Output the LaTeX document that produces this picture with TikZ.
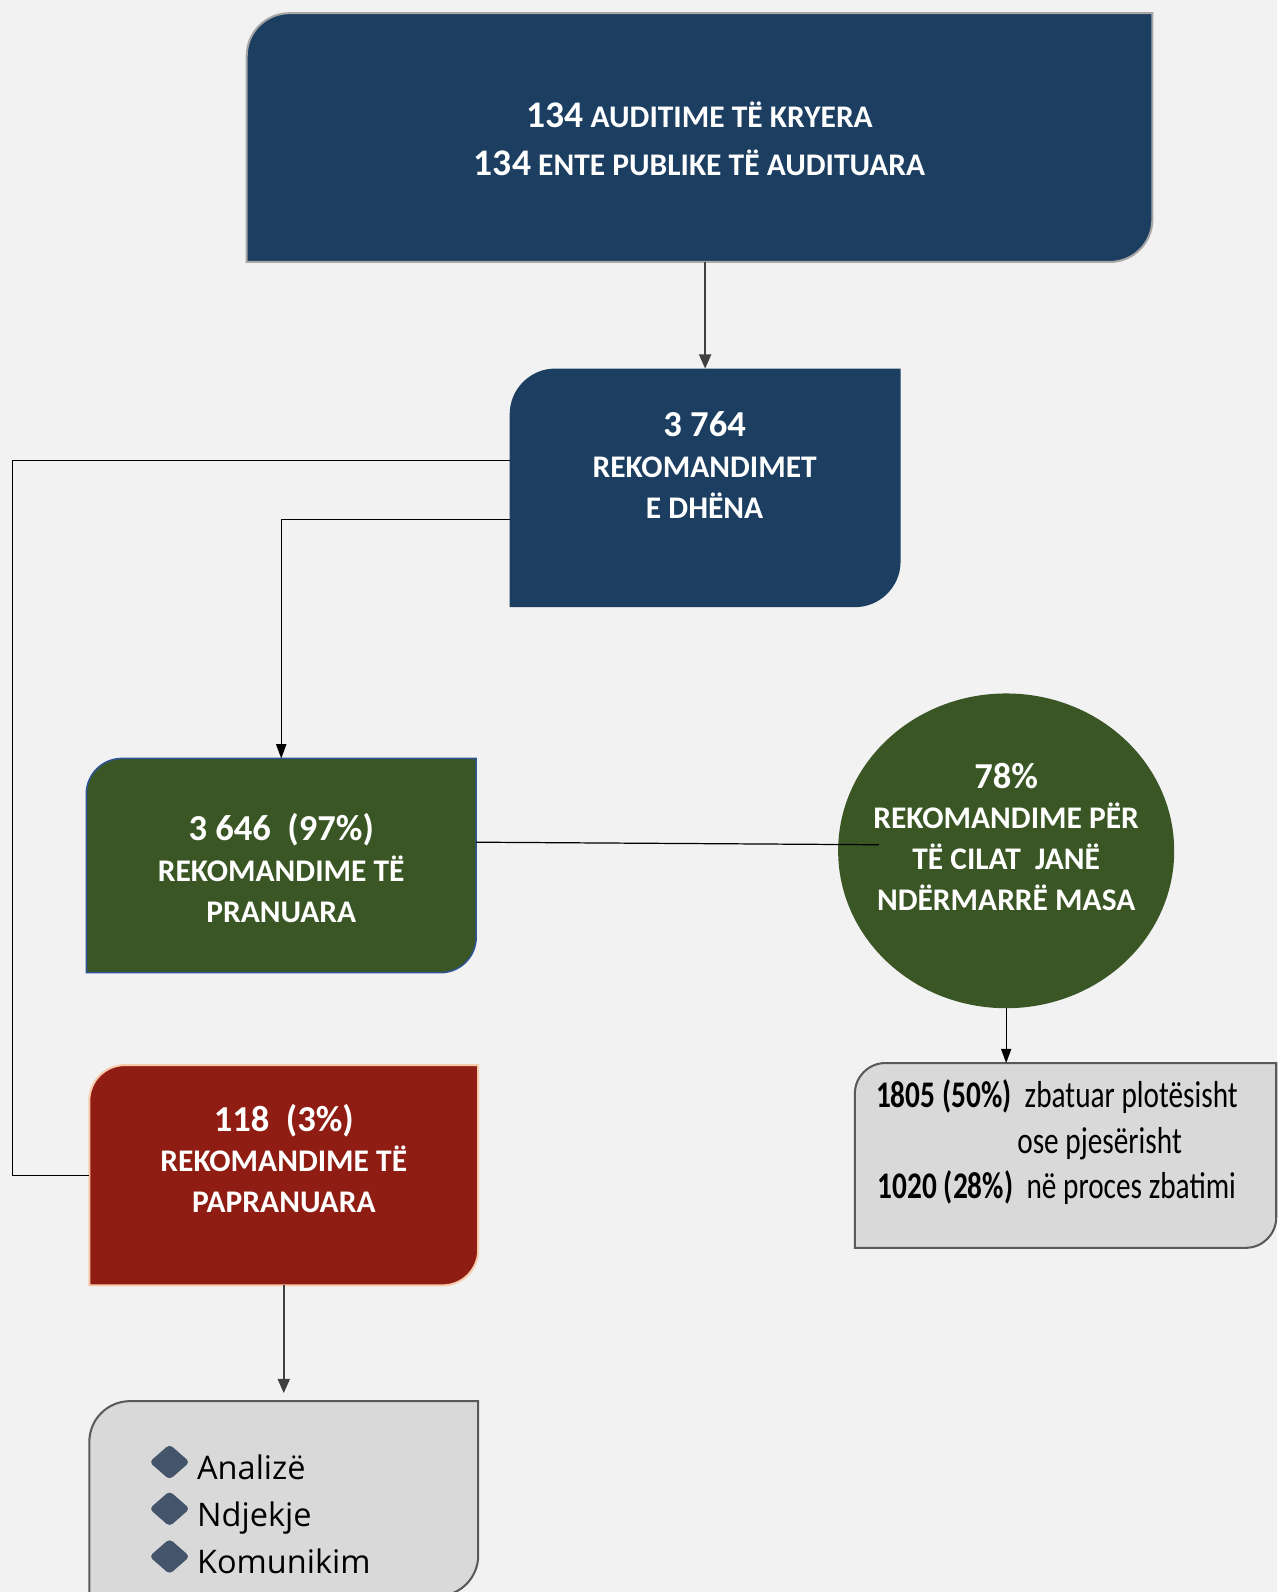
\documentclass[tikz,border=0pt]{standalone}
\usepackage{fontspec}
\setmainfont{Carlito}
\newfontfamily\listfont{Open Sans}
\usetikzlibrary{positioning,calc,shapes.geometric,arrows.meta}

\definecolor{pagegray}{HTML}{F2F2F2}
\definecolor{auditblue}{HTML}{1B3E61}
\definecolor{acceptgreen}{HTML}{3A5624}
\definecolor{refusered}{HTML}{8F1D13}
\definecolor{notegray}{HTML}{D9D9D9}
\definecolor{bulletblue}{HTML}{44546A}
\definecolor{arrowgray}{HTML}{404040}

\pgfdeclarelayer{bg}
\pgfsetlayers{bg,main}

\newcommand{\numsize}{\fontsize{36}{40}\selectfont}

% box with round top left and bottom right corners
\newcommand{\leafbox}[3]{%
  \path[#3] (#1.south west)
    -- ($(#1.north west)+(0,#2)$)
    .. controls ($(#1.north west)+(0,0.448*#2)$) and ($(#1.north west)+(0.448*#2,0)$) .. ($(#1.north west)+(#2,0)$)
    -- (#1.north east)
    -- ($(#1.south east)-(0,#2)$)
    .. controls ($(#1.south east)-(0,0.448*#2)$) and ($(#1.south east)-(0.448*#2,0)$) .. ($(#1.south east)-(#2,0)$)
    -- cycle;}

\begin{document}
\begin{tikzpicture}
  [x=1pt, y=-1pt,
   boxframe/.style={rectangle, inner sep=0, outer sep=0},
   boxtext/.style={text=white, font=\bfseries\fontsize{31}{40}\selectfont, align=center},
   notetext/.style={text=black, font=\fontsize{37}{44.5}\selectfont, align=center},
   link/.style={draw=black, line width=1.2pt},
   flow/.style={draw=arrowgray, line width=1.6pt, -{Triangle[width=12pt,length=14pt]}},
   bullet/.style={diamond, fill=bulletblue, minimum width=40, minimum height=35, inner sep=0, rounded corners=4pt},
   item/.style={font=\listfont\fontsize{32}{38}\selectfont, anchor=base west, inner sep=0}]

\useasboundingbox (0,0) rectangle (1258,1568);

%%%  nodes

% top
\node [boxframe, minimum width=892, minimum height=245] (audit) at (689,135.5) {};
\node [boxtext, font=\bfseries\fontsize{31}{47}\selectfont] (audit-txt) at (689,136.5)
  {{\fontsize{37}{40}\selectfont 134} AUDITIME TË KRYERA\\{\fontsize{37}{40}\selectfont 134} ENTE PUBLIKE TË AUDITUARA};

% recommendations
\node [boxframe, minimum width=385, minimum height=235] (rec) at (694.5,480.5) {};
\node [boxtext] (rec-txt) at (694,458) {{\numsize 3 764}\\REKOMANDIMET\\E DHËNA};

% accepted
\node [boxframe, minimum width=384, minimum height=211] (accepted) at (277,852.5) {};
\node [boxtext] (accepted-txt) at (277,855) {{\numsize 3 646\ \ (97\%)}\\REKOMANDIME TË\\PRANUARA};

% measures taken
\node [boxframe, ellipse, fill=acceptgreen, minimum width=331, minimum height=310] (measures) at (991,838) {};
\node [boxtext] (measures-txt) at (991,824) {{\numsize 78\%}\\REKOMANDIME PËR\\TË CILAT\ \ JANË\\NDËRMARRË MASA};

% status
\node [boxframe, minimum width=415, minimum height=182] (status) at (1049.5,1138) {};
\node [notetext] (status-txt) at (1041,1125)
  {\scalebox{0.78}[1]{\textbf{1805 (50\%)}\ \ zbatuar plotësisht}\\
   \hspace*{84pt}\scalebox{0.78}[1]{ose pjesërisht}\\
   \scalebox{0.78}[1]{\textbf{1020 (28\%)}\ \ në proces zbatimi}};

% not accepted
\node [boxframe, minimum width=383, minimum height=217] (refused) at (279.5,1157.5) {};
\node [boxtext] (refused-txt) at (279.5,1141) {{\numsize 118\ \ (3\%)}\\REKOMANDIME TË\\PAPRANUARA};

% actions
\node [boxframe, minimum width=383, minimum height=192] (actions) at (279.5,1476) {};
\node [bullet] (b1) at (167,1440) {};
\node [bullet] (b2) at (167,1486) {};
\node [bullet] (b3) at (167,1533) {};
\node [item] (i1) at (194,1457) {Analizë};
\node [item] (i2) at (194,1503) {Ndjekje};
\node [item] (i3) at (194,1550) {Komunikim};

%%%  shapes

\begin{pgfonlayer}{bg}
\fill [pagegray] (0,0) rectangle (1258,1568);
\leafbox{audit}{42}{fill=auditblue, draw=gray!70, line width=2pt}
\leafbox{rec}{45}{fill=auditblue}
\leafbox{accepted}{35}{fill=acceptgreen, draw={rgb,255:red,47;green,85;blue,151}, line width=1.5pt}
\leafbox{status}{30}{fill=notegray, draw=black!65, line width=2pt}
\leafbox{refused}{35}{fill=refusered, draw={rgb,255:red,248;green,203;blue,173}, line width=2pt}
\leafbox{actions}{40}{fill=notegray, draw=black!65, line width=2pt}
\end{pgfonlayer}

%%%  edges

\draw [flow] (audit.south -| rec.north) -- (rec.north);

\draw [link] ([yshift=27pt]rec.west) -| ([xshift=-76pt]refused.west) -- (refused.west);
\draw [link, -{Triangle[width=10pt,length=14pt]}] ([yshift=-31pt]rec.west) -| (accepted.north);

\draw [link] ([yshift=23pt]accepted.east) -- ([xshift=40pt,yshift=6pt]measures.west);
\draw [link, -{Triangle[width=10pt,length=14pt]}] (measures.south) -- (status.north -| measures.south);

\draw [flow, shorten >=8pt] (refused.south) -- (actions.north);

\end{tikzpicture}
\end{document}
